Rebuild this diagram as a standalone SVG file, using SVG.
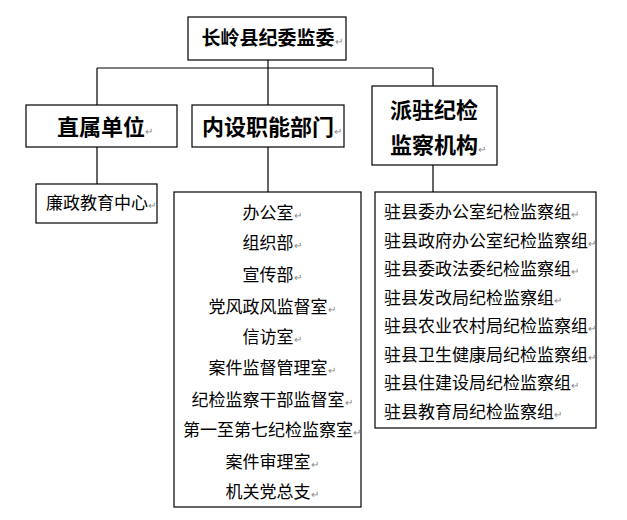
<svg xmlns="http://www.w3.org/2000/svg" width="627" height="520" viewBox="0 0 627 520">
<style>
.box{fill:#fff;stroke:#000;stroke-width:1.2}
.ln{stroke:#000;stroke-width:1.2;fill:none}
text{font-family:"Noto Sans CJK SC","Noto Sans",sans-serif;fill:#000}
.h{font-size:22px;font-weight:bold}
.t{font-size:19px;font-weight:bold}
.r{font-size:17px}
.pm{font-size:10px;fill:#888}
</style>
<rect width="627" height="520" fill="#fff"/>
<g id="connectors">
<path class="ln" d="M268 60V68M97 68H433M97 68V105M268 68V105M433 68V86M97 147V184M268 147V192M433 165V192"/>
</g>
<g id="root">
<rect class="box" x="188" y="17" width="158" height="43"/>
<text class="t" x="201.5" y="45">长岭县纪委监委</text><text class="pm" x="334.5" y="45">↵</text>
</g>
<g id="zhishu">
<rect class="box" x="26" y="105" width="151" height="42"/>
<text class="h" x="57" y="135">直属单位</text><text class="pm" x="145" y="135">↵</text>
</g>
<g id="neishe">
<rect class="box" x="192" y="105" width="152" height="42"/>
<text class="h" x="202" y="135">内设职能部门</text><text class="pm" x="334" y="135">↵</text>
</g>
<g id="paizhu">
<rect class="box" x="372" y="86" width="125" height="79"/>
<text class="h" x="390" y="118">派驻纪检</text>
<text class="h" x="390" y="153">监察机构</text><text class="pm" x="478" y="153">↵</text>
</g>
<g id="lianzheng">
<rect class="box" x="36" y="184" width="121" height="39"/>
<text class="r" x="46" y="209">廉政教育中心</text><text class="pm" x="148" y="209">↵</text>
</g>
<g id="neishe-list">
<rect class="box" x="174" y="192" width="187" height="315"/>
<g class="r">
<text class="r" x="242.5" y="219">办公室</text><text class="pm" x="293.5" y="219">↵</text>
<text class="r" x="242.5" y="249">组织部</text><text class="pm" x="293.5" y="249">↵</text>
<text class="r" x="242.5" y="281">宣传部</text><text class="pm" x="293.5" y="281">↵</text>
<text class="r" x="208.5" y="313">党风政风监督室</text><text class="pm" x="327.5" y="313">↵</text>
<text class="r" x="242.5" y="343">信访室</text><text class="pm" x="293.5" y="343">↵</text>
<text class="r" x="208.5" y="374">案件监督管理室</text><text class="pm" x="327.5" y="374">↵</text>
<text class="r" x="191.5" y="406">纪检监察干部监督室</text><text class="pm" x="344.5" y="406">↵</text>
<text class="r" x="183" y="436">第一至第七纪检监察室</text><text class="pm" x="353" y="436">↵</text>
<text class="r" x="225.5" y="468">案件审理室</text><text class="pm" x="310.5" y="468">↵</text>
<text class="r" x="225.5" y="498">机关党总支</text><text class="pm" x="310.5" y="498">↵</text>
</g>
</g>
<g id="paizhu-list">
<rect class="box" x="375" y="192" width="221" height="236"/>
<text class="r" x="384" y="218">驻县委办公室纪检监察组</text><text class="pm" x="571" y="218">↵</text>
<text class="r" x="384" y="247">驻县政府办公室纪检监察组</text><text class="pm" x="588" y="247">↵</text>
<text class="r" x="384" y="275">驻县委政法委纪检监察组</text><text class="pm" x="571" y="275">↵</text>
<text class="r" x="384" y="304">驻县发改局纪检监察组</text><text class="pm" x="554" y="304">↵</text>
<text class="r" x="384" y="332">驻县农业农村局纪检监察组</text><text class="pm" x="588" y="332">↵</text>
<text class="r" x="384" y="361">驻县卫生健康局纪检监察组</text><text class="pm" x="588" y="361">↵</text>
<text class="r" x="384" y="389">驻县住建设局纪检监察组</text><text class="pm" x="571" y="389">↵</text>
<text class="r" x="384" y="418">驻县教育局纪检监察组</text><text class="pm" x="554" y="418">↵</text>
</g>
</svg>
